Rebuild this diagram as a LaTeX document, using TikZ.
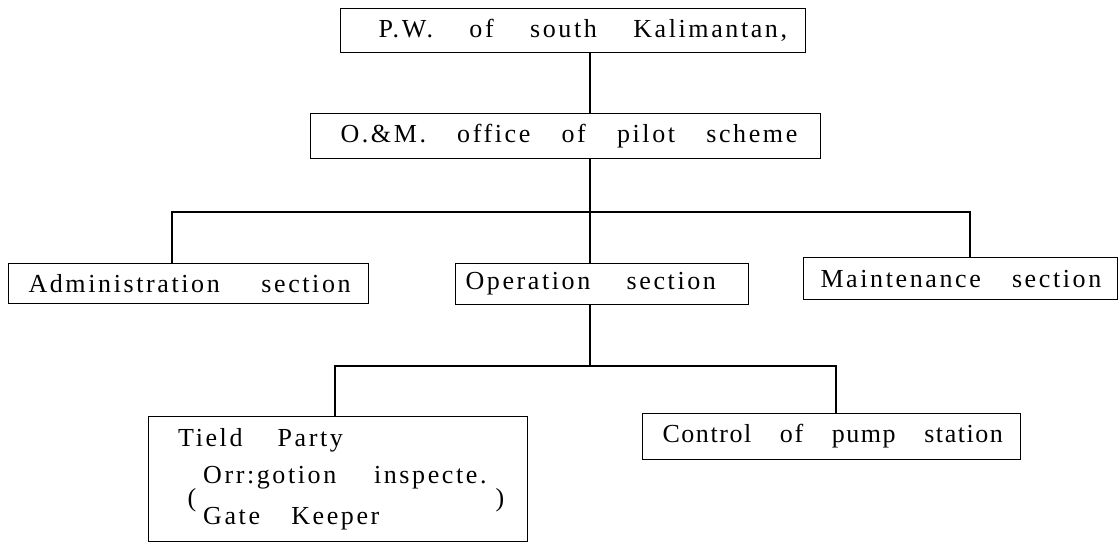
\documentclass[tikz,border=0pt]{standalone}
\usepackage{fontspec}
\setmainfont{Liberation Serif}
% wide, tracked serif lettering used in every box
\newcommand\orgfont{\fontsize{26}{31}\selectfont\addfontfeature{LetterSpace=10}}
\newcommand\widespaces{\spaceskip=1.2em plus 0.1em\relax}
\newcommand\gap[1]{\spaceskip=#1em plus 0.1em\relax}
\tikzset{
  box/.style={draw, line width=1.1pt, rectangle, inner ysep=0pt,
              font=\orgfont, align=left, anchor=north west,
              execute at begin node=\widespaces},
  txt/.style={font=\orgfont, inner sep=0pt, execute at begin node=\widespaces},
  link/.style={line width=1.6pt},
}
\begin{document}
\begin{tikzpicture}[x=1pt, y=-1pt]
\useasboundingbox (0,0) rectangle (1120,544);

% boxes: north-west corner, width = text width + 2 * inner xsep, fixed height
\node[box, text width=389pt, inner xsep=38pt, minimum height=44pt] (pw) at (340,8)
  {\gap{1.4}\mbox{P.W. of south Kalimantan,}};
\node[box, text width=450pt, inner xsep=30pt, minimum height=45pt] (om) at (310,113)
  {\mbox{O.\&M. office of pilot scheme}};
\node[box, text width=320pt, inner xsep=20pt, minimum height=40pt] (admin) at (8,263)
  {\gap{1.6}\mbox{Administration section}};
\node[box, text width=273pt, inner xsep=10pt, minimum height=41pt] (oper) at (455,263)
  {\gap{1.4}\mbox{Operation section}};
\node[box, text width=280pt, inner xsep=17pt, minimum height=42pt] (maint) at (803,257)
  {\mbox{Maintenance section}};
\node[box, text width=338pt, inner xsep=20pt, minimum height=46pt] (pump) at (642,413)
  {\gap{1.1}\addfontfeature{LetterSpace=6}\mbox{Control of pump station}};
\node[box, minimum width=379pt, minimum height=125pt] (field) at (148,416) {};

% field party lines
\node[txt, anchor=base west] (f1) at (178,446) {\gap{1.35}Tield Party};
\node[txt, anchor=base west] (f2) at (203,483) {\gap{1.45}Orr:gotion inspecte.};
\node[txt, anchor=base west] (f3) at (203,524) {Gate Keeper};
\node[txt] (pl) at (192,500) {(};
\node[txt] (pr) at (500,500) {)};

% junction points
\coordinate (j1) at (590,212);
\coordinate (ja) at (172,212);
\coordinate (jm) at (970,212);
\coordinate (j2) at (590,366);
\coordinate (jf) at (335,366);
\coordinate (jp) at (836,366);

% connectors
\draw[link] (pw.south -| j1) -- (om.north -| j1);
\draw[link] (om.south -| j1) -- (j1) -- (oper.north -| j1);
\draw[link] (admin.north -| ja) -- (ja) -- (jm) -- (maint.north -| jm);
\draw[link] (oper.south -| j2) -- (j2);
\draw[link] (field.north -| jf) -- (jf) -- (jp) -- (pump.north -| jp);
\end{tikzpicture}
\end{document}
